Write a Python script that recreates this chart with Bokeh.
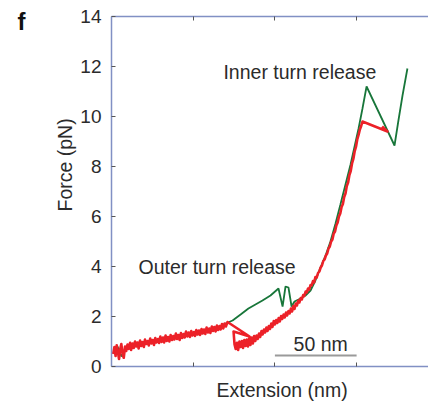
import math
from bokeh.plotting import figure
from bokeh.models import Range1d, LinearAxis, FixedTicker, Label, Title
from bokeh.embed import file_html
from bokeh.resources import INLINE

# ---- data (Extension in nm, Force in pN) ----
green_x = [2.4, 3.7, 6.1, 8.6, 14.7, 20.8, 26.9, 33.0, 39.2, 45.3, 51.4, 57.5, 63.6, 69.8,
           74.1, 79.0, 83.8, 88.1, 92.4, 97.3, 102.2, 104.7, 106.5, 108.3, 110.2, 112.0,
           115.7, 118.7, 121.8, 124.8, 127.9, 131.0, 134.0, 137.1, 140.1, 143.2, 146.3,
           149.3, 151.2, 153.6, 156.1, 173.2, 175.6, 178.1, 181.1]
green_y = [0.64, 0.80, 0.40, 0.72, 0.84, 0.96, 1.04, 1.12, 1.16, 1.24, 1.28, 1.36, 1.52, 1.72,
           1.84, 2.08, 2.32, 2.48, 2.64, 2.84, 3.12, 2.40, 3.20, 3.16, 2.40, 2.60,
           2.72, 2.84, 3.04, 3.44, 3.96, 4.44, 5.00, 5.72, 6.48, 7.28, 8.08,
           8.96, 9.52, 10.32, 11.20, 8.84, 9.84, 10.84, 11.92]

red_x = [1.0, 1.8, 2.5, 3.2, 4.0, 4.6, 5.4, 6.0, 6.9, 7.5, 8.3, 9.0, 9.8, 10.5, 11.4, 12.0,
         12.9, 13.6, 14.4, 15.1, 15.9, 16.6, 17.5, 18.2, 19.0, 19.8, 20.5, 21.3, 22.1, 22.8,
         23.7, 24.4, 25.2, 26.0, 26.8, 27.5, 28.4, 29.1, 29.9, 30.7, 31.5, 32.2, 33.1, 33.8,
         34.6, 35.4, 36.2, 37.0, 37.8, 38.5, 39.4, 40.1, 40.9, 41.7, 42.5, 43.2, 44.1, 44.8,
         45.6, 46.4, 47.2, 48.0, 48.8, 49.5, 50.4, 51.1, 51.9, 52.7, 53.5, 54.2, 55.1, 55.8,
         56.6, 57.4, 58.2, 59.0, 59.8, 60.5, 61.4, 62.1, 62.9, 63.7, 64.5, 65.2, 66.1, 66.8,
         67.6, 68.4, 69.2, 70.0, 71.0,
         84.5, 74.7,
         75.3, 76.0, 76.8, 77.5, 78.3, 79.0, 79.8, 80.5, 81.3, 82.0, 82.8, 83.5, 84.3, 85.0,
         85.8, 86.5, 87.3, 88.0, 88.8, 89.5, 90.3, 91.0, 91.8, 92.5, 93.3, 94.0, 94.8, 95.5,
         96.3, 97.0, 97.8, 98.5, 99.3, 100.0, 100.8, 101.5, 102.3, 103.0, 103.8, 104.5, 105.3,
         106.0, 106.8, 107.5, 108.3, 109.0, 109.8, 110.5, 111.3, 112.0, 112.8, 113.5, 114.3,
         115.0, 115.8, 116.5, 117.3, 118.0, 118.8, 119.5, 120.3, 121.0, 121.8, 122.5, 123.3,
         124.0, 124.8, 125.6, 126.4, 127.2, 128.0, 128.8, 129.6, 130.4, 131.2, 132.0, 132.8,
         133.6, 134.4, 135.2, 136.0, 136.8, 137.6, 138.4, 139.2, 140.0, 140.8, 141.6, 142.4,
         143.2, 144.0, 144.8, 145.6, 146.4, 147.2, 148.0, 148.8, 149.6, 150.4, 151.2, 152.0,
         152.8, 153.6,
         168.9, 165.6]
red_y = [0.50, 0.78, 0.42, 0.85, 0.55, 0.30, 0.72, 0.90, 0.45, 0.35, 0.80, 0.62, 0.88, 0.70, 0.95, 0.66,
         0.92, 0.74, 1.00, 0.80, 0.96, 0.72, 1.04, 0.82, 0.98, 0.78, 1.08, 0.90, 1.02, 0.84,
         1.12, 0.92, 1.06, 0.86, 1.14, 0.96, 1.10, 0.94, 1.20, 0.98, 1.16, 0.96, 1.24, 1.02,
         1.18, 1.00, 1.26, 1.06, 1.22, 1.08, 1.32, 1.10, 1.26, 1.06, 1.34, 1.14, 1.30, 1.16,
         1.40, 1.20, 1.36, 1.18, 1.42, 1.24, 1.38, 1.22, 1.46, 1.28, 1.44, 1.26, 1.50, 1.32,
         1.48, 1.30, 1.56, 1.36, 1.52, 1.34, 1.60, 1.42, 1.58, 1.40, 1.64, 1.46, 1.62, 1.48,
         1.70, 1.52, 1.72, 1.60, 1.78,
         1.20, 1.40,
         0.88, 0.70, 0.95, 0.66, 1.00, 0.78, 1.02, 0.74, 1.06, 0.82, 1.08, 0.80, 1.12, 0.86,
         1.16, 0.92, 1.22, 1.02, 1.24, 1.10, 1.32, 1.18, 1.42, 1.28, 1.48, 1.36, 1.56, 1.42,
         1.62, 1.50, 1.72, 1.58, 1.82, 1.68, 1.86, 1.74, 1.94, 1.80, 2.02, 1.90, 2.08,
         1.96, 2.16, 2.04, 2.22, 2.12, 2.32, 2.20, 2.42, 2.30, 2.52, 2.44, 2.64,
         2.56, 2.74, 2.68, 2.86, 2.82, 3.00, 2.96, 3.12, 3.08, 3.26, 3.24, 3.42,
         3.36, 3.58, 3.56, 3.74, 3.80, 3.96, 4.04, 4.22, 4.28, 4.44, 4.52, 4.72,
         4.80, 5.00, 5.08, 5.32, 5.40, 5.64, 5.76, 6.00, 6.12, 6.38, 6.50, 6.78,
         6.92, 7.22, 7.36, 7.66, 7.82, 8.12, 8.30, 8.60, 8.78, 9.08, 9.26, 9.48,
         9.62, 9.80,
         9.40, 9.60]

x_ticks = [50, 100, 150]
y_ticks = [0, 2, 4, 6, 8, 10, 12, 14]
scale_bar_x = [100, 150]
scale_bar_y = [0.44, 0.44]
panel_letter = "f"

FONT = "Liberation Sans"
AXIS_COLOR = "#8190c4"
TEXT_COLOR = "#2b2b2b"

p = figure(width=428, height=410, output_backend="svg", toolbar_location=None,
           x_range=Range1d(0, 194), y_range=Range1d(0, 14),
           x_axis_location=None, y_axis_location=None,
           min_border_left=111, min_border_right=0, min_border_top=16, min_border_bottom=44)
p.outline_line_color = None
p.grid.visible = False
p.background_fill_color = "white"
p.border_fill_color = "white"

left = LinearAxis(ticker=FixedTicker(ticks=y_ticks))
left.axis_line_color = AXIS_COLOR
left.axis_line_width = 1.5
left.major_tick_in = 4
left.major_tick_out = 0
left.major_tick_line_color = "#555555"
left.minor_tick_line_color = None
left.major_label_text_font = FONT
left.major_label_text_font_size = "19px"
left.major_label_text_color = TEXT_COLOR
left.major_label_standoff = 10
p.add_layout(left, "left")

for loc in ("below", "above"):
    ax = LinearAxis(ticker=FixedTicker(ticks=x_ticks))
    ax.axis_line_color = AXIS_COLOR
    ax.axis_line_width = 1.5
    ax.major_tick_in = 4
    ax.major_tick_out = 0
    ax.major_tick_line_color = "#555555"
    ax.minor_tick_line_color = None
    ax.major_label_text_font_size = "0px"
    ax.major_label_text_color = None
    ax.major_label_standoff = 0
    p.add_layout(ax, loc)

# panel letter, carried by an extra (invisible) top axis whose single label sits left of the frame
letter_axis = LinearAxis(ticker=FixedTicker(ticks=[0]),
                         major_label_overrides={0: panel_letter + "\u00a0" * 27})
letter_axis.axis_line_color = None
letter_axis.major_tick_line_color = None
letter_axis.minor_tick_line_color = None
letter_axis.major_label_text_align = "right"
letter_axis.major_label_text_baseline = "bottom"
letter_axis.major_label_standoff = -24
letter_axis.major_label_text_font = FONT
letter_axis.major_label_text_font_size = "24px"
letter_axis.major_label_text_font_style = "bold"
letter_axis.major_label_text_color = "#111111"
p.add_layout(letter_axis, "above")

p.add_layout(Title(text="Force (pN)", align="left", offset=155, standoff=3,
                   text_font=FONT, text_font_size="19.5px", text_font_style="normal",
                   text_color=TEXT_COLOR), "left")
p.add_layout(Title(text="Extension (nm)", align="left", offset=105, standoff=20,
                   text_font=FONT, text_font_size="19.5px", text_font_style="normal",
                   text_color=TEXT_COLOR), "below")

p.line(green_x, green_y, line_color="#18763a", line_width=1.8)
p.line(red_x, red_y, line_color="#ec2128", line_width=2.6, line_join="round")

p.line(scale_bar_x, scale_bar_y, line_color="#9a9a9a", line_width=2)

p.add_layout(Label(x=128, y=0.90, text="50 nm", text_align="center", text_baseline="alphabetic",
                   text_font=FONT, text_font_size="19.5px", text_color=TEXT_COLOR))
p.add_layout(Label(x=68.5, y=11.8, text="Inner turn release", text_align="left",
                   text_baseline="alphabetic", text_font=FONT, text_font_size="19.5px",
                   text_color=TEXT_COLOR))
p.add_layout(Label(x=16.5, y=3.98, text="Outer turn release", text_align="left",
                   text_baseline="alphabetic", text_font=FONT, text_font_size="19.5px",
                   text_color=TEXT_COLOR))

open("out.html", "w").write(file_html(p, INLINE))
